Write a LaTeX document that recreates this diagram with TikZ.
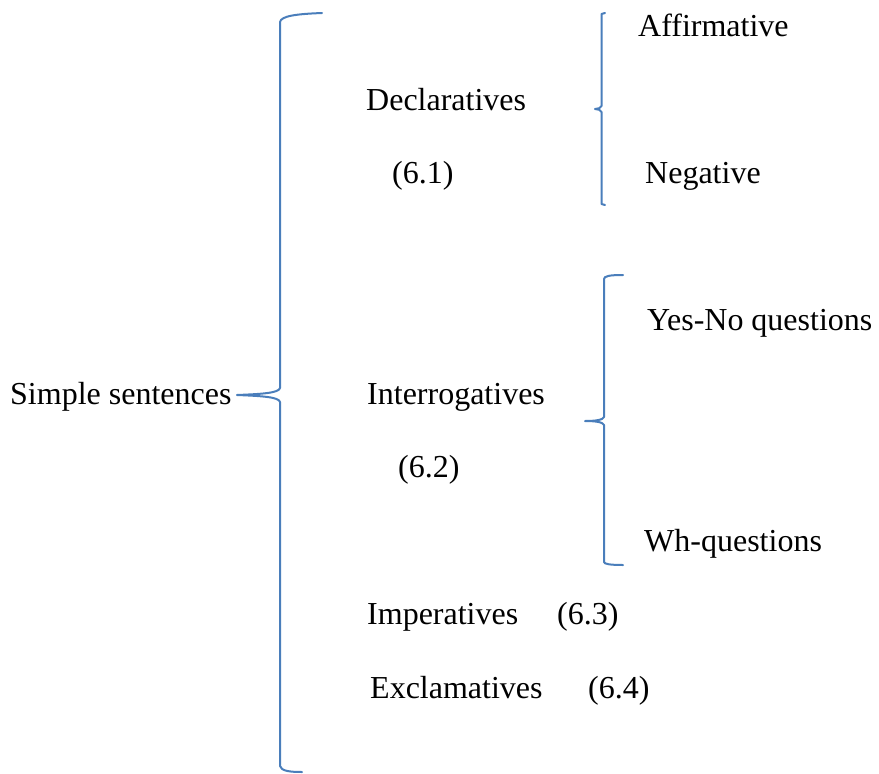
\documentclass[tikz,border=0pt]{standalone}
\usepackage{fontspec}
\setmainfont{Liberation Serif}
\definecolor{bracecol}{HTML}{4A7EBB}
\begin{document}
\begin{tikzpicture}[x=1pt,y=-1pt,
  lbl/.style={anchor=base west,inner sep=0pt,font=\fontsize{32}{38}\selectfont},
  bracket/.style={draw=bracecol,line width=2pt,line cap=round,line join=round}]
\useasboundingbox (0,0) rectangle (879,774);

% labels, one row every 73.4 units
\node[lbl] (aff)  at (638,36.5)  {Affirmative};
\node[lbl] (decl) at (366,110)   {Declaratives};
\node[lbl] (d61)  at (392,183.5) {(6.1)};
\node[lbl] (neg)  at (645,183.5) {Negative};
\node[lbl] (yn)   at (647,330.5) {Yes-No questions};
\node[lbl] (simp) at (10,404)    {Simple sentences};
\node[lbl] (intr) at (367,404)   {Interrogatives};
\node[lbl] (d62)  at (398,477.5) {(6.2)};
\node[lbl] (wh)   at (644,551)   {Wh-questions};
\node[lbl] (imp)  at (367,624.5) {Imperatives};
\node[lbl] (d63)  at (557,624.5) {(6.3)};
\node[lbl] (excl) at (370,698)   {Exclamatives};
\node[lbl] (d64)  at (588,698)   {(6.4)};

% main brace
\coordinate (mtip) at (237,395);
\draw[bracket] (322,13) .. controls (296,14) and (281,16) .. (280,22)
  -- (280,388) .. controls (279,393) and (262,394) .. (mtip)
  .. controls (262,396) and (279,397) .. (280,402)
  -- (280,766) .. controls (281,771) and (290,772) .. (302,772);

% brace for declaratives
\coordinate (dtip) at (595,109);
\draw[bracket] (605,13) -- (601.5,14) -- (601.5,106)
  .. controls (601,108) and (598,109) .. (dtip)
  .. controls (598,109) and (601,110) .. (601.5,112)
  -- (601.5,204) -- (605,205);

% brace for interrogatives
\coordinate (itip) at (585,421);
\draw[bracket] (623,275) .. controls (610,275) and (604,276) .. (604,279)
  -- (604,417) .. controls (603,420) and (595,421) .. (itip)
  .. controls (595,421) and (603,422) .. (604,425)
  -- (604,562) .. controls (604,564) and (610,565) .. (623,565);
\end{tikzpicture}
\end{document}
